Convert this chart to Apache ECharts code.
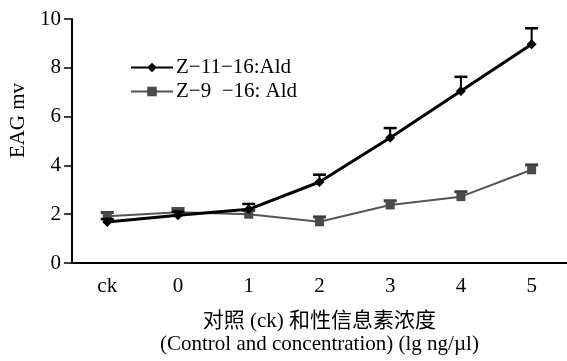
<!DOCTYPE html>
<html>
<head>
<meta charset="utf-8">
<script src="https://cdn.jsdelivr.net/npm/echarts@6/dist/echarts.min.js"></script>
<style>html,body{margin:0;padding:0;background:#fff;}#c{width:567px;height:361px;}</style>
</head>
<body>
<div id="c"></div>
<script>
var categories = ['ck', '0', '1', '2', '3', '4', '5'];
var seriesNames = ['Z\u221211\u221216:Ald', 'Z\u22129  \u221216: Ald'];
var z11Values = [1.68, 1.96, 2.2, 3.32, 5.13, 7.05, 8.97];
var z11Errors = [0.12, 0.15, 0.22, 0.3, 0.4, 0.58, 0.65];
var z9Values = [1.92, 2.08, 2.0, 1.69, 2.38, 2.72, 3.82];
var z9Errors = [0.15, 0.15, 0.15, 0.2, 0.17, 0.2, 0.2];
var yTicks = [0, 2, 4, 6, 8, 10];

var FONT = '"Liberation Serif", "Noto Sans CJK SC", serif';

function errData(vals, errs) {
  return vals.map(function (v, i) { return [i, v, errs[i]]; });
}
function errRender(color, capW, lw) {
  return function (params, api) {
    var x = api.value(0), y = api.value(1), e = api.value(2);
    var p0 = api.coord([x, y]);
    var p1 = api.coord([x, y + e]);
    return {
      type: 'group',
      children: [
        { type: 'line', shape: { x1: p0[0], y1: p0[1], x2: p1[0], y2: p1[1] }, style: { stroke: color, lineWidth: lw } },
        { type: 'line', shape: { x1: p1[0] - capW / 2, y1: p1[1], x2: p1[0] + capW / 2, y2: p1[1] }, style: { stroke: color, lineWidth: lw + 0.5 } }
      ]
    };
  };
}

var chart = echarts.init(document.getElementById('c'));
chart.setOption({
  animation: false,
  backgroundColor: '#fff',
  textStyle: { fontFamily: FONT },
  grid: { left: 63, right: 0, top: 19, bottom: 92, containLabel: false },
  legend: {
    orient: 'vertical',
    left: 125,
    top: 52,
    itemWidth: 42,
    itemHeight: 12,
    itemGap: 3,
    data: seriesNames,
    textStyle: { fontFamily: FONT, fontSize: 21, color: '#000', padding: [0, 0, 0, -2] }
  },
  xAxis: {
    type: 'category',
    data: categories,
    boundaryGap: true,
    axisLine: { lineStyle: { color: '#000', width: 2 } },
    axisTick: { inside: true, length: 8, lineStyle: { color: '#000', width: 1.5 } },
    axisLabel: { color: '#000', fontFamily: FONT, fontSize: 21, margin: 13 },
    splitLine: { show: false },
    name: '对照 (ck) 和性信息素浓度\n(Control and concentration) (lg ng/µl)',
    nameLocation: 'middle',
    nameGap: 47,
    nameTextStyle: { color: '#000', fontFamily: FONT, fontSize: 21, lineHeight: 23 }
  },
  yAxis: {
    type: 'value',
    min: yTicks[0],
    max: yTicks[yTicks.length - 1],
    interval: 2,
    axisLine: { show: true, lineStyle: { color: '#000', width: 2 } },
    axisTick: { show: true, inside: false, length: 8, lineStyle: { color: '#000', width: 1.5 } },
    axisLabel: { color: '#000', fontFamily: FONT, fontSize: 21, margin: 11 },
    splitLine: { show: false },
    name: 'EAG mv',
    nameLocation: 'middle',
    nameGap: 38,
    nameRotate: 90,
    nameTextStyle: { color: '#000', fontFamily: FONT, fontSize: 21, padding: [0, 0, 0, 41] }
  },
  series: [
    {
      name: seriesNames[1],
      type: 'line',
      data: z9Values,
      symbol: 'rect',
      symbolSize: 9,
      itemStyle: { color: '#4a4a4a' },
      lineStyle: { color: '#555', width: 2 },
      z: 3
    },
    {
      type: 'custom',
      data: errData(z9Values, z9Errors),
      encode: { x: 0, y: 1 },
      renderItem: errRender('#3a3a3a', 13, 2.5),
      z: 3,
      silent: true
    },
    {
      name: seriesNames[0],
      type: 'line',
      data: z11Values,
      symbol: 'diamond',
      symbolSize: 10,
      itemStyle: { color: '#000' },
      lineStyle: { color: '#000', width: 3 },
      z: 4
    },
    {
      type: 'custom',
      data: errData(z11Values, z11Errors),
      encode: { x: 0, y: 1 },
      renderItem: errRender('#000', 13, 2),
      z: 4,
      silent: true
    }
  ]
});
</script>
</body>
</html>
